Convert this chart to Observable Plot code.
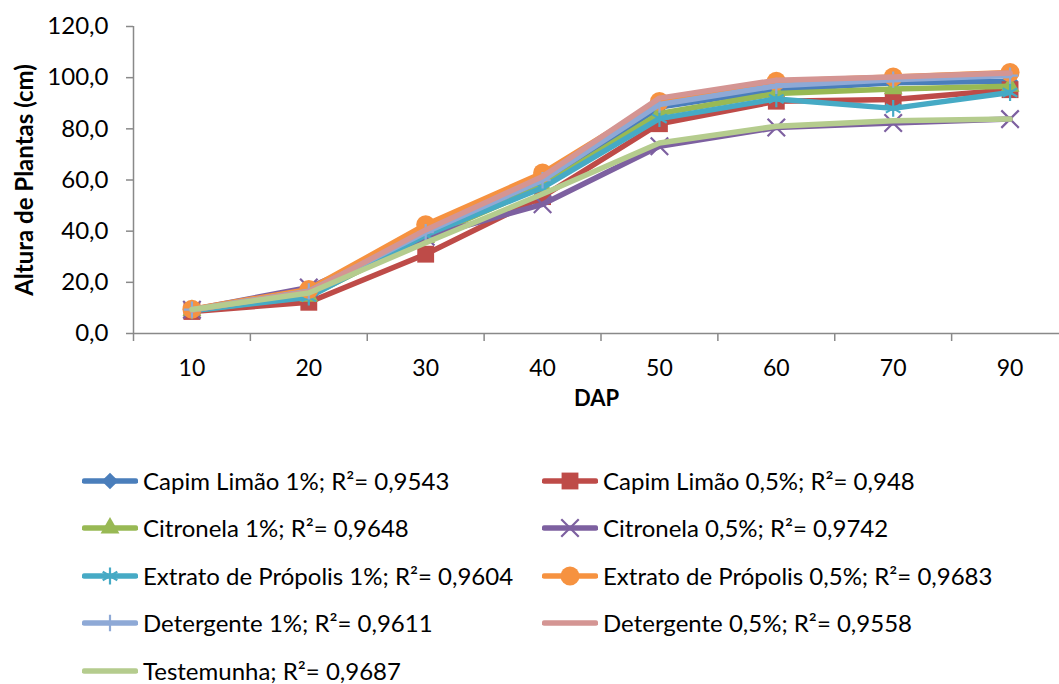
<!DOCTYPE html>
<html>
<head>
<meta charset="utf-8">
<script src="https://cdn.jsdelivr.net/npm/d3@7"></script>
<script src="https://cdn.jsdelivr.net/npm/@observablehq/plot@0.6"></script>
<style>
  html, body { margin: 0; padding: 0; background: #fff; }
  body { width: 1059px; height: 684px; overflow: hidden; position: relative; font-family: Lato, "Open Sans", sans-serif; }
  #chart { position: absolute; left: 0; top: 0; }
  #legend { position: absolute; left: 82px; top: 457px; display: grid; grid-template-columns: 460px 500px; grid-auto-rows: 47.5px; align-items: center; }
  .item { display: flex; align-items: center; font-size: 24px; line-height: 22px; height: 24px; color: #000; white-space: nowrap; }
  .item svg { margin-right: 5px; flex: none; }
</style>
</head>
<body>
<div id="chart"></div>
<div id="legend"></div>
<script>
// ---- data ----
const dap = ["10", "20", "30", "40", "50", "60", "70", "90"];
const yTicks = [0, 20, 40, 60, 80, 100, 120];

const capimLimao1 = [9.2, 15.5, 38.0, 58.5, 88.5, 95.3, 98.0, 98.6];
const capimLimao05 = [8.6, 12.2, 31.0, 53.5, 82.0, 90.8, 91.5, 95.3];
const citronela1 = [9.0, 14.5, 37.5, 57.6, 86.0, 93.8, 95.6, 96.6];
const citronela05 = [9.3, 18.0, 37.8, 50.5, 73.2, 80.5, 82.3, 83.8];
const propolis1 = [8.9, 14.2, 38.5, 57.0, 84.0, 91.7, 88.0, 94.2];
const propolis05 = [9.5, 17.2, 42.5, 62.7, 90.7, 98.6, 100.3, 102.0];
const detergente1 = [9.3, 16.5, 39.6, 59.9, 89.5, 96.8, 99.2, 100.8];
const detergente05 = [9.2, 16.3, 40.5, 61.4, 92.0, 99.0, 100.3, 101.8];
const testemunha = [9.4, 15.8, 35.5, 54.5, 74.5, 81.0, 83.2, 83.8];

const seriesNames = [
  "Capim Limão 1%; R²= 0,9543",
  "Capim Limão 0,5%; R²= 0,948",
  "Citronela 1%; R²= 0,9648",
  "Citronela 0,5%; R²= 0,9742",
  "Extrato de Própolis 1%; R²= 0,9604",
  "Extrato de Própolis 0,5%; R²= 0,9683",
  "Detergente 1%; R²= 0,9611",
  "Detergente 0,5%; R²= 0,9558",
  "Testemunha; R²= 0,9687"
];
const seriesValues = [capimLimao1, capimLimao05, citronela1, citronela05, propolis1, propolis05, detergente1, detergente05, testemunha];
const colors = ["#4A7EBB", "#BE4B48", "#98B954", "#7D60A0", "#46AAC5", "#F69240", "#8EA9D6", "#D49593", "#B5CC8E"];
// marker: [symbol, filled, r]
const markers = [
  ["diamond2", true, 7.5],
  ["square", true, 9.5],
  ["triangle", true, 7],
  ["times", false, 8],
  ["asterisk", false, 8],
  ["circle", true, 9.5],
  ["plus", false, 5.3],
  null,
  null
];

// ---- chart ----
const rows = seriesValues.map((vals, s) => vals.map((v, i) => ({s, i, v})));
const boundaries = d3.range(-0.5, dap.length, 1);
const axisGray = "#898989";

const marks = [
  Plot.ruleY([0], {x1: -0.5, x2: dap.length - 0.5, stroke: axisGray, strokeWidth: 1.5}),
  Plot.ruleX([-0.5], {y1: 0, y2: 120, stroke: axisGray, strokeWidth: 1.5}),
  Plot.axisY({ticks: yTicks, tickSize: 7, tickPadding: 18, tickFormat: d => d.toFixed(1).replace(".", ","), stroke: axisGray, strokeWidth: 1.5, label: null, fontSize: 24}),
  Plot.axisX({ticks: boundaries, tickSize: 8, tickFormat: () => "", stroke: axisGray, strokeWidth: 1.5, label: null}),
  Plot.axisX({ticks: d3.range(dap.length), tickSize: 0, tickPadding: 26, tickFormat: i => dap[i], label: null, fontSize: 23})
];
rows.forEach((data, s) => {
  marks.push(Plot.line(data, {x: "i", y: "v", stroke: colors[s], strokeWidth: 5.5, strokeLinejoin: "round", strokeLinecap: "round"}));
  const m = markers[s];
  if (m) {
    const [symbol, filled, r] = m;
    marks.push(Plot.dot(data, filled
      ? {x: "i", y: "v", symbol, r, fill: colors[s], stroke: "none"}
      : {x: "i", y: "v", symbol, r, fill: "none", stroke: colors[s], strokeWidth: 2.2}));
  }
});
marks.push(Plot.text(["Altura de Plantas (cm)"], {text: d => d, frameAnchor: "left", textAnchor: "middle", dx: -108, rotate: -90, fontWeight: "bold", fontSize: 24, fill: "#000"}));
marks.push(Plot.text(["DAP"], {text: d => d, frameAnchor: "bottom", dy: 72, fontWeight: "bold", fontSize: 22, fill: "#000"}));

const chart = Plot.plot({
  width: 1059,
  height: 440,
  marginTop: 26,
  marginBottom: 107,
  marginLeft: 133,
  marginRight: 0,
  style: {fontFamily: "Lato, 'Open Sans', sans-serif", fontSize: "22px", color: "#000", background: "#fff", overflow: "visible"},
  x: {type: "linear", domain: [-0.5, dap.length - 0.5], range: [133, 1068]},
  y: {domain: [0, 120], range: [333, 26]},
  marks
});
document.getElementById("chart").appendChild(chart);

// ---- legend ----
const legend = d3.select("#legend");
seriesNames.forEach((name, s) => {
  const item = legend.append("div").attr("class", "item");
  const svg = item.append("svg").attr("width", 56).attr("height", 24);
  svg.append("line").attr("x1", 2.5).attr("x2", 53.5).attr("y1", 12).attr("y2", 12)
    .attr("stroke", colors[s]).attr("stroke-width", 5.5).attr("stroke-linecap", "round");
  const m = markers[s];
  if (m) {
    const [symbol, filled, r] = m;
    const map = {diamond2: d3.symbolDiamond2, square: d3.symbolSquare, triangle: d3.symbolTriangle, times: d3.symbolTimes, asterisk: d3.symbolAsterisk, circle: d3.symbolCircle, plus: d3.symbolPlus};
    const path = d3.symbol(map[symbol], Math.PI * r * r)();
    svg.append("path").attr("d", path).attr("transform", "translate(28,12)")
      .attr("fill", filled ? colors[s] : "none")
      .attr("stroke", filled ? "none" : colors[s])
      .attr("stroke-width", filled ? 0 : 2.2);
  }
  item.append("span").text(name);
});
</script>
</body>
</html>
